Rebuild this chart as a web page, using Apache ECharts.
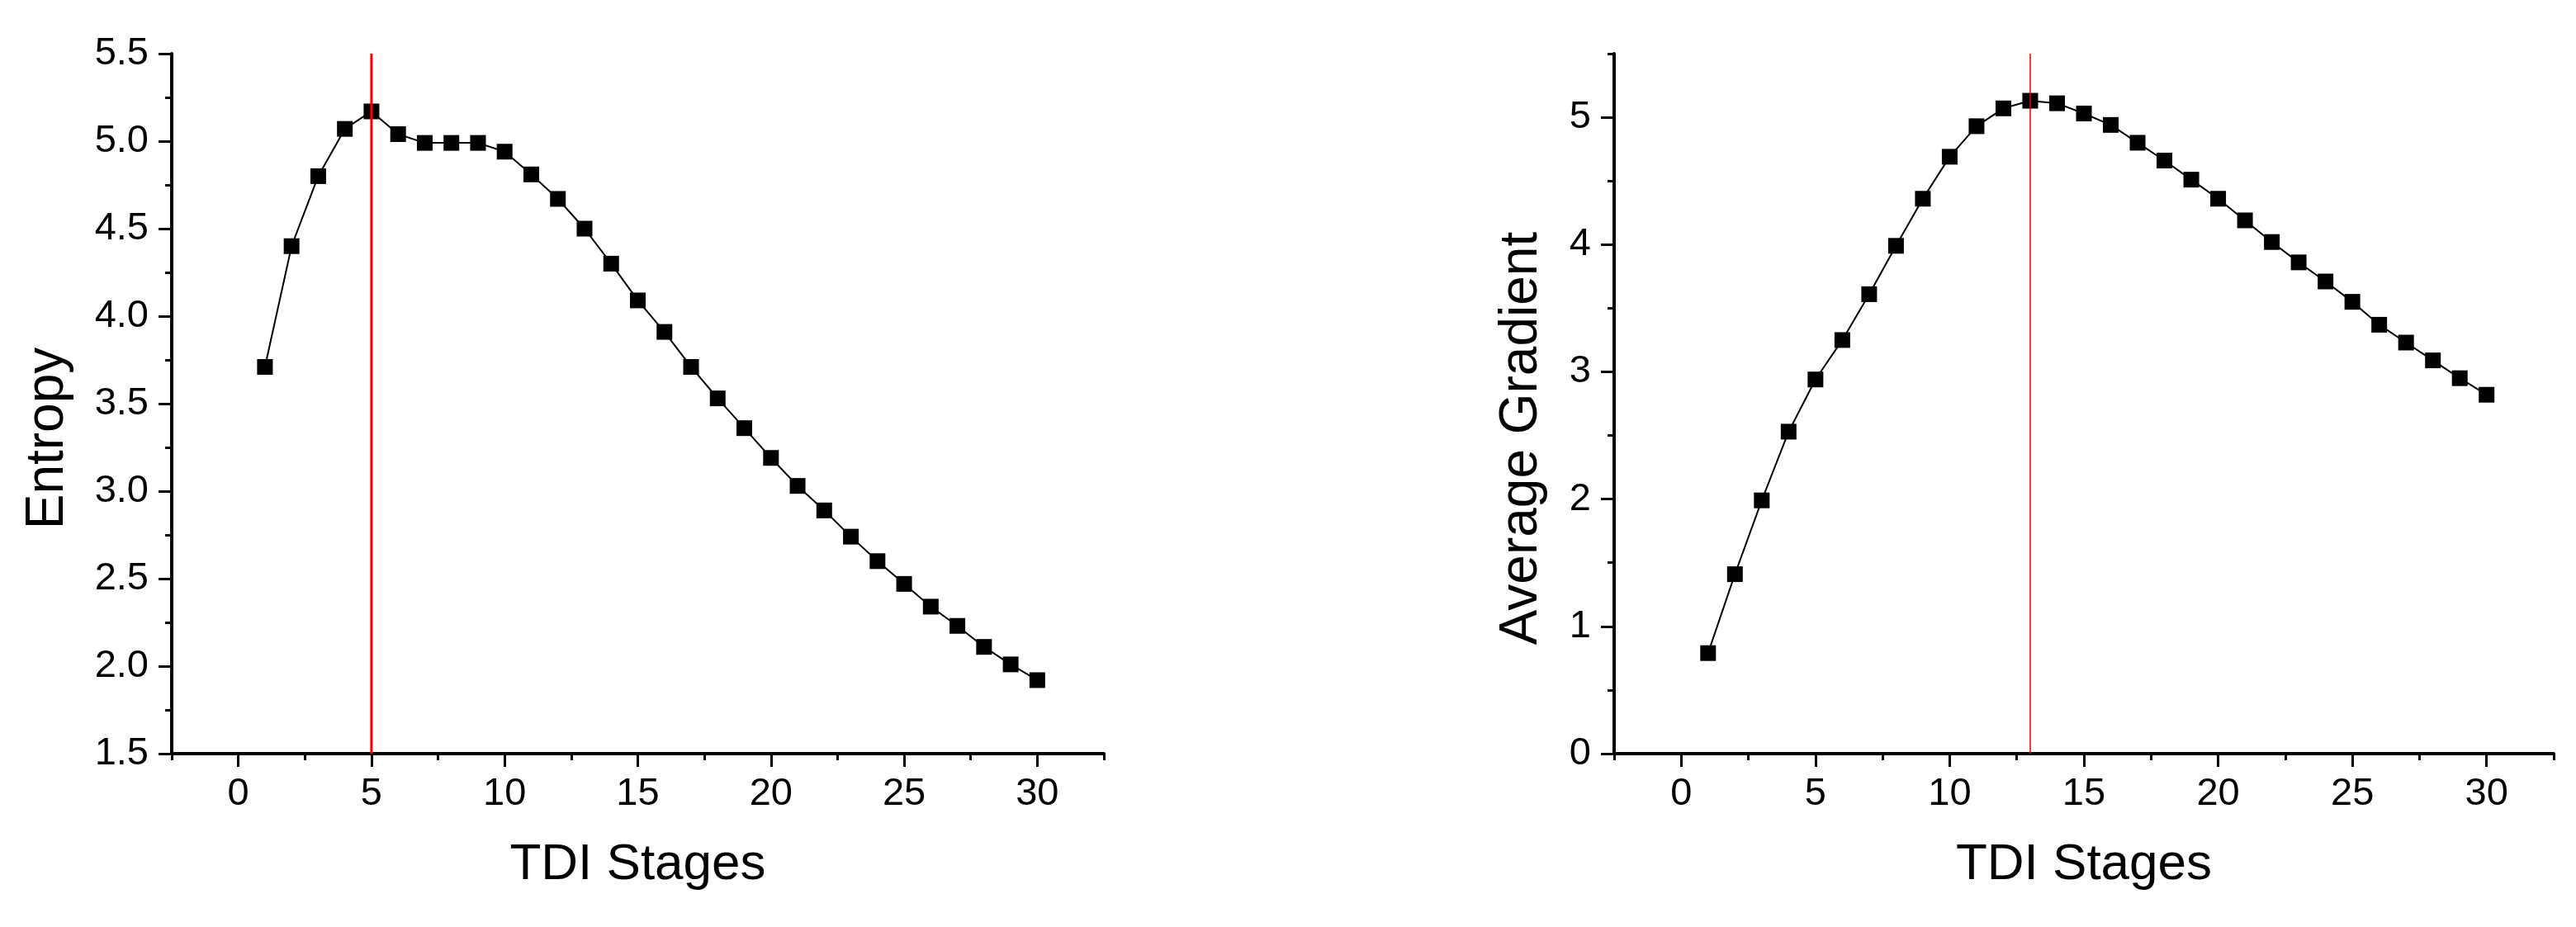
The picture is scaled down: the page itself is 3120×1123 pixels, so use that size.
<!DOCTYPE html>
<html>
<head>
<meta charset="utf-8">
<script src="https://cdn.jsdelivr.net/npm/echarts@6/dist/echarts.min.js"></script>
<style>
html,body{margin:0;padding:0;background:#fff;}
#chart{width:3120px;height:1123px;}
</style>
</head>
<body>
<div id="chart"></div>
<script>
// ---- data ----
var stages = [];
for (var s = 1; s <= 30; s++) stages.push(s);
var entropy = [3.71, 4.40, 4.80, 5.07, 5.17, 5.04, 4.99, 4.99, 4.99, 4.94,
               4.81, 4.67, 4.50, 4.30, 4.09, 3.91, 3.71, 3.53, 3.36, 3.19,
               3.03, 2.89, 2.74, 2.60, 2.47, 2.34, 2.23, 2.11, 2.01, 1.92];
var gradient = [0.79, 1.41, 1.99, 2.53, 2.94, 3.25, 3.61, 3.99, 4.36, 4.69,
                4.93, 5.07, 5.13, 5.11, 5.03, 4.94, 4.80, 4.66, 4.51, 4.36,
                4.19, 4.02, 3.86, 3.71, 3.55, 3.37, 3.23, 3.09, 2.95, 2.82];
var entropyMarkStage = 5;
var gradientMarkStage = 13;
var xMajorTicks = [0, 5, 10, 15, 20, 25, 30];
var xMinorTicks = [-2.5, 2.5, 7.5, 12.5, 17.5, 22.5, 27.5, 32.5];
var gradMajorTicks = [0, 1, 2, 3, 4, 5];
var gradMinorTicks = [0.5, 1.5, 2.5, 3.5, 4.5, 5.5];
var xRange = [-2.5, 32.5];
var entropyRange = [1.5, 5.5];
var gradientRange = [0, 5.5];
var xName = 'TDI Stages';
var entropyName = 'Entropy';
var gradientName = 'Average Gradient';

// ---- chart ----
var FONT = '"Liberation Sans", Arial, sans-serif';
var black = '#000';
function pairs(xs, ys) { return xs.map(function (x, i) { return [x, ys[i]]; }); }

function mainX(gridIndex) {
  return {
    type: 'value', gridIndex: gridIndex, min: xRange[0], max: xRange[1], position: 'bottom',
    name: xName, nameLocation: 'middle', nameGap: 104,
    nameTextStyle: { fontFamily: FONT, fontSize: 62, color: black },
    axisLine: { show: true, onZero: false, lineStyle: { color: black, width: 4 } },
    axisTick: { show: true, customValues: xMajorTicks, length: 16, lineStyle: { color: black, width: 3 } },
    axisLabel: { customValues: xMajorTicks, fontFamily: FONT, fontSize: 47, color: black, margin: 26 },
    splitLine: { show: false }
  };
}
function minorX(gridIndex) {
  return {
    type: 'value', gridIndex: gridIndex, min: xRange[0], max: xRange[1], position: 'bottom', offset: 0,
    axisLine: { show: false, onZero: false },
    axisTick: { show: true, customValues: xMinorTicks, length: 8, lineStyle: { color: black, width: 3 } },
    axisLabel: { show: false }, splitLine: { show: false }
  };
}

var option = {
  animation: false,
  backgroundColor: '#fff',
  grid: [
    { left: 208, top: 65, width: 1129, height: 848 },
    { left: 1955, top: 65, width: 1138, height: 848 }
  ],
  xAxis: [mainX(0), minorX(0), mainX(1), minorX(1)],
  yAxis: [
    {
      type: 'value', gridIndex: 0, min: entropyRange[0], max: entropyRange[1], interval: 0.5,
      name: entropyName, nameLocation: 'middle', nameGap: 118,
      nameTextStyle: { fontFamily: FONT, fontSize: 64, color: black, padding: [0, 84, 0, 0] },
      axisLine: { show: true, onZero: false, lineStyle: { color: black, width: 4 } },
      axisTick: { show: true, length: 16, lineStyle: { color: black, width: 3 } },
      minorTick: { show: true, splitNumber: 2, length: 8, lineStyle: { color: black, width: 3 } },
      axisLabel: { fontFamily: FONT, fontSize: 47, color: black, margin: 28,
        formatter: function (v) { return v.toFixed(1); } },
      splitLine: { show: false }, minorSplitLine: { show: false }
    },
    {
      type: 'value', gridIndex: 1, min: gradientRange[0], max: gradientRange[1], position: 'left',
      name: gradientName, nameLocation: 'middle', nameGap: 80,
      nameTextStyle: { fontFamily: FONT, fontSize: 64, color: black, padding: [0, 84, 0, 0] },
      axisLine: { show: true, onZero: false, lineStyle: { color: black, width: 4 } },
      axisTick: { show: true, customValues: gradMajorTicks, length: 16, lineStyle: { color: black, width: 3 } },
      axisLabel: { customValues: gradMajorTicks, fontFamily: FONT, fontSize: 47, color: black, margin: 28 },
      splitLine: { show: false }
    },
    {
      type: 'value', gridIndex: 1, min: gradientRange[0], max: gradientRange[1], position: 'left', offset: 0,
      axisLine: { show: false, onZero: false },
      axisTick: { show: true, customValues: gradMinorTicks, length: 8, lineStyle: { color: black, width: 3 } },
      axisLabel: { show: false }, splitLine: { show: false }
    }
  ],
  series: [
    {
      type: 'line', xAxisIndex: 0, yAxisIndex: 0, data: pairs(stages, entropy),
      symbol: 'rect', symbolSize: 19, itemStyle: { color: black },
      lineStyle: { color: black, width: 2 }, z: 2
    },
    {
      type: 'line', xAxisIndex: 0, yAxisIndex: 0,
      data: [[entropyMarkStage, entropyRange[0]], [entropyMarkStage, entropyRange[1]]],
      symbol: 'none', lineStyle: { color: '#ff0000', width: 3 }, z: 5, silent: true
    },
    {
      type: 'line', xAxisIndex: 2, yAxisIndex: 1, data: pairs(stages, gradient),
      symbol: 'rect', symbolSize: 19, itemStyle: { color: black },
      lineStyle: { color: black, width: 2 }, z: 2
    },
    {
      type: 'line', xAxisIndex: 2, yAxisIndex: 1,
      data: [[gradientMarkStage, gradientRange[0]], [gradientMarkStage, gradientRange[1]]],
      symbol: 'none', lineStyle: { color: '#ee0000', width: 1.5 }, z: 5, silent: true
    }
  ]
};
var chart = echarts.init(document.getElementById('chart'), null, { renderer: 'canvas' });
chart.setOption(option);
</script>
</body>
</html>
